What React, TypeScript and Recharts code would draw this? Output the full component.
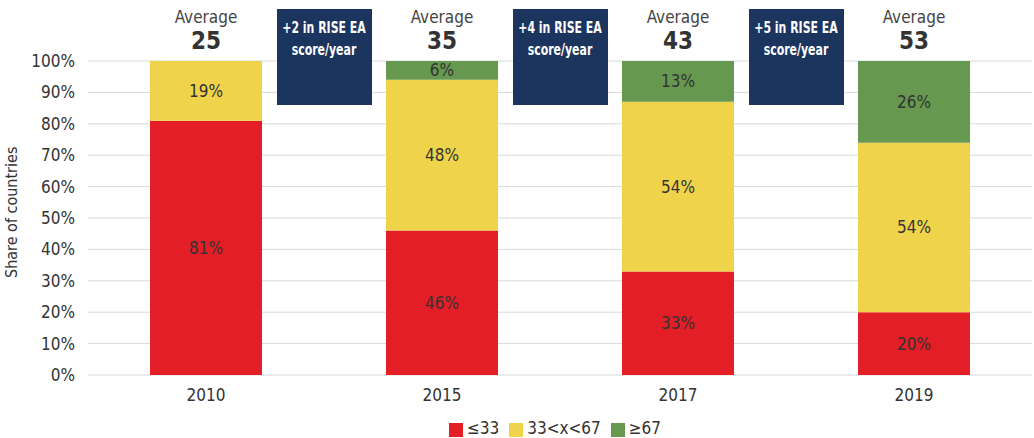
import { BarChart, Bar, XAxis, YAxis, CartesianGrid, Legend, LabelList } from 'recharts'

// categories and series (share of countries, %)
const years = ['2010', '2015', '2017', '2019']
const low = [81, 46, 33, 20]
const mid = [19, 48, 54, 54]
const high = [0, 6, 13, 26]
const averages = [25, 35, 43, 53]
const gains = ['+2', '+4', '+5']
const yTicks = [0, 10, 20, 30, 40, 50, 60, 70, 80, 90, 100]
const seriesNames = ['≤33', '33<x<67', '≥67']

const data = years.map((year, i) => ({ year, low: low[i], mid: mid[i], high: high[i], avg: averages[i] }))

const FONT = '"Liberation Sans Narrow", "DejaVu Sans Condensed", "Roboto", sans-serif'
const RED = '#E31E26'
const YELLOW = '#EFD44B'
const GREEN = '#66984F'
const NAVY = '#1C355E'

const W = 1034
const H = 438
const LEFT = 88
const RIGHT = 2
const band = (W - LEFT - RIGHT) / years.length

const TopTick = (props: any) => {
    const { x, index } = props
    const gain = gains[index]
    const cx = x + band / 2
    return (
        <g>
            <text x={x} y={23} textAnchor='middle' fontSize={17} fill='#444' fontFamily={FONT}>Average</text>
            <text x={x} y={49} textAnchor='middle' fontSize={24} fontWeight='bold' fill='#333' fontFamily={FONT}>
                {averages[index]}
            </text>
            {gain && (
                <g>
                    <rect x={cx - 47} y={9} width={95} height={96} fill={NAVY} />
                    {/* condensed look for the callout text */}
                    <g transform={`translate(${cx},0) scale(0.76,1)`}>
                        <text x={0} y={33} textAnchor='middle' fontSize={16} fontWeight='bold' fill='#fff' fontFamily={FONT}>
                            {gain} in RISE EA
                        </text>
                        <text x={0} y={55} textAnchor='middle' fontSize={16} fontWeight='bold' fill='#fff' fontFamily={FONT}>
                            score/year
                        </text>
                    </g>
                </g>
            )}
        </g>
    )
}

const pct = (v: any) => (v ? `${v}%` : '')

const App = () => {
    return (
        <div style={{ position: 'absolute', left: 0, top: 0, background: '#fff' }}>
            <BarChart width={W} height={H} data={data} margin={{ top: 0, right: RIGHT, bottom: 13, left: 0 }}>
                <CartesianGrid vertical={false} stroke='#d9d9d9' />
                <XAxis xAxisId='top' dataKey='year' orientation='top' height={61} axisLine={false} tickLine={false} tick={<TopTick />} />
                <XAxis dataKey='year' height={30} axisLine={false} tickLine={false} tickMargin={8}
                    tick={{ fill: '#333', fontSize: 17, fontFamily: FONT }} />
                <YAxis width={LEFT} domain={[0, 100]} ticks={yTicks} tickFormatter={(v) => `${v}%`}
                    axisLine={false} tickLine={false} tickMargin={7} tick={{ fill: '#333', fontSize: 17, fontFamily: FONT }}
                    label={{ value: 'Share of countries', angle: -90, position: 'insideLeft', dx: 6, dy: 60, fill: '#333', fontSize: 16, fontFamily: FONT }} />
                <Legend verticalAlign='bottom' iconType='square' iconSize={14}
                    itemSorter={(item: any) => seriesNames.indexOf(item.value)}
                    formatter={(v) => <span style={{ color: '#333', fontSize: 17, fontFamily: FONT }}>{v}</span>}
                    wrapperStyle={{ bottom: 0, left: LEFT, width: W - LEFT - RIGHT }} />
                <Bar dataKey='low' name='≤33' stackId='a' fill={RED} barSize={112} isAnimationActive={false}>
                    <LabelList dataKey='low' position='center' formatter={pct} fill='#333' fontSize={17} fontFamily={FONT} />
                </Bar>
                <Bar dataKey='mid' name='33<x<67' stackId='a' fill={YELLOW} barSize={112} isAnimationActive={false}>
                    <LabelList dataKey='mid' position='center' formatter={pct} fill='#333' fontSize={17} fontFamily={FONT} />
                </Bar>
                <Bar dataKey='high' name='≥67' stackId='a' fill={GREEN} barSize={112} isAnimationActive={false}>
                    <LabelList dataKey='high' position='center' formatter={pct} fill='#333' fontSize={17} fontFamily={FONT} />
                </Bar>
            </BarChart>
        </div>
    )
}

export default App
